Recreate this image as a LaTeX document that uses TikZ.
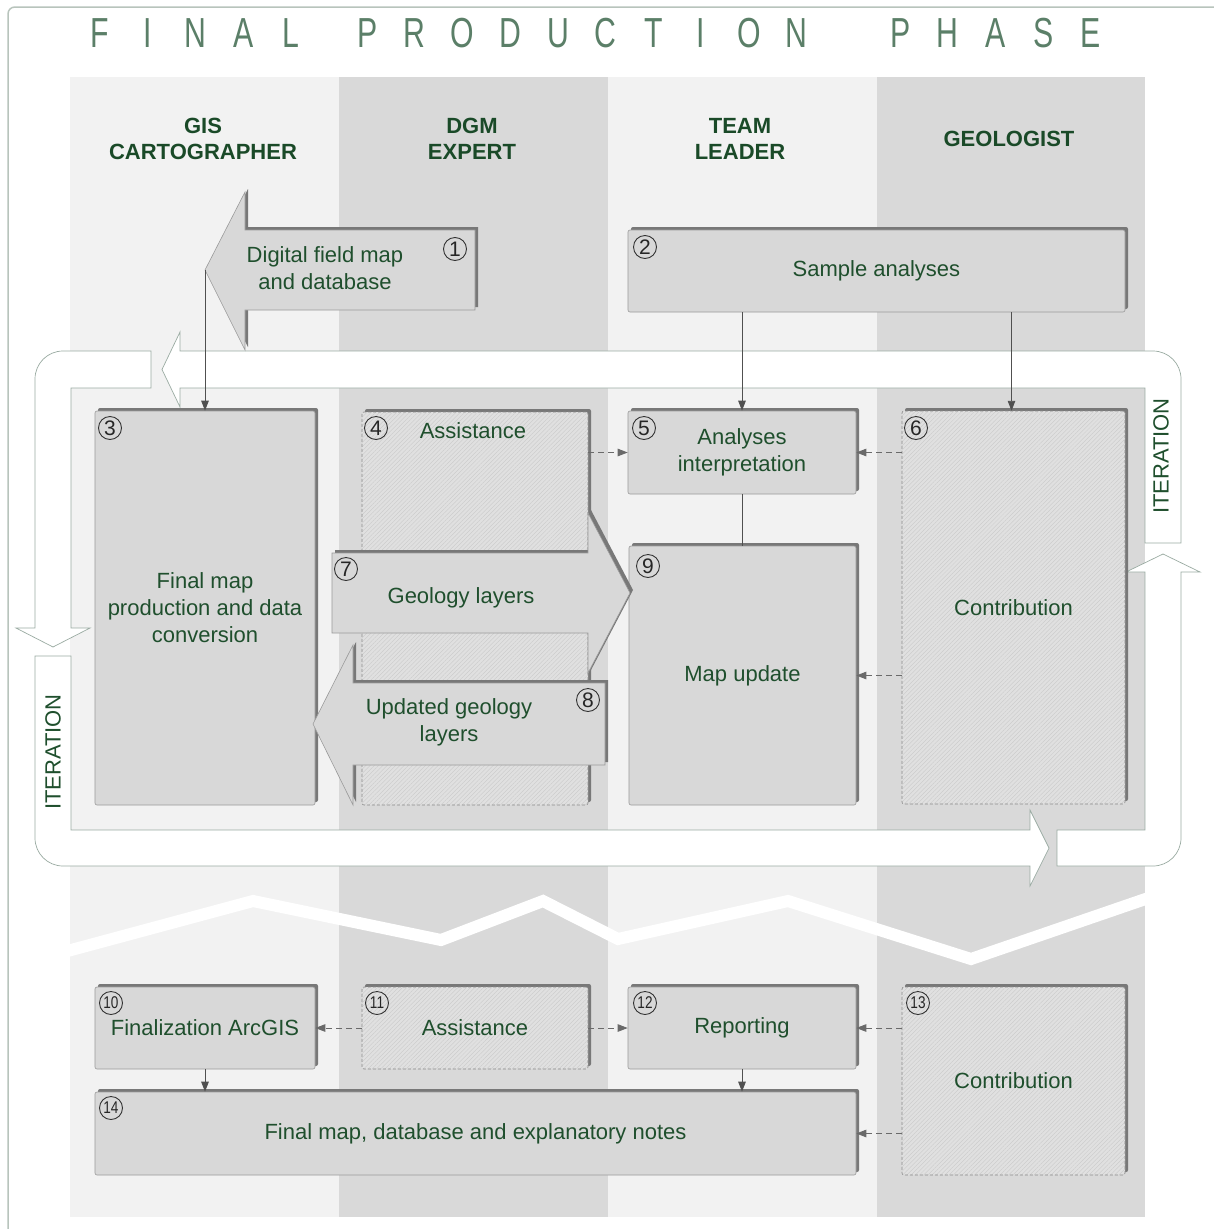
\documentclass[tikz,border=0pt]{standalone}
\usepackage{fontspec}
\setmainfont{Liberation Sans}
\newfontfamily\titlefont[FakeStretch=0.72]{Liberation Sans}
\usetikzlibrary{arrows.meta,shadows,patterns.meta}
\definecolor{colL}{HTML}{F2F2F2}
\definecolor{colD}{HTML}{D9D9D9}
\definecolor{boxfill}{HTML}{D8D8D8}
\definecolor{boxline}{HTML}{9A9A9A}
\definecolor{shadowc}{HTML}{787878}
\definecolor{hfill}{HTML}{E0E0E0}
\definecolor{hline}{HTML}{C8C8C8}
\definecolor{hborder}{HTML}{8A8A8A}
\definecolor{tgreen}{HTML}{1F4F2D}
\definecolor{hgreen}{HTML}{1A4A28}
\definecolor{titlec}{HTML}{5B7F68}
\definecolor{loopc}{HTML}{9AABA2}
\definecolor{framec}{HTML}{B8C4BC}
\definecolor{connc}{HTML}{505050}
\definecolor{dconnc}{HTML}{6A6A6A}
\definecolor{numline}{HTML}{333333}
\newcommand\ttlch[1]{\makebox[47.7pt]{#1}}
\begin{document}
\begin{tikzpicture}[x=1pt,y=-1pt,
  txt/.style={text=tgreen,font=\fontsize{22}{27}\selectfont,align=center},
  hdr/.style={text=hgreen,font=\bfseries\fontsize{22}{26.5}\selectfont,align=center},
  box/.style={draw=boxline,line width=0.6pt,fill=boxfill,rounded corners=2pt,inner sep=0pt,
    general shadow={fill=shadowc,shadow xshift=3pt,shadow yshift=3pt},txt},
  hbox/.style={fill=hfill,rounded corners=2pt,inner sep=0pt,
    general shadow={fill=shadowc,shadow xshift=3pt,shadow yshift=3pt},
    postaction={pattern={Lines[angle=45,distance=3pt,line width=0.35pt]},pattern color=hline},
    postaction={draw=hborder,line width=0.6pt,dash pattern=on 3pt off 2pt},txt},
  numc/.style={circle,draw=numline,line width=0.9pt,minimum size=23pt,inner sep=0pt,
    text=black!85,font=\fontsize{21}{21}\selectfont},
  numcc/.style={numc,font=\fontsize{17}{17}\selectfont},
  loopp/.style={fill=white,draw=loopc,line width=0.7pt,line join=miter},
  barrow/.style={fill=boxfill,draw=boxline,line width=0.6pt,line join=miter},
  conn/.style={draw=connc,line width=0.9pt,-{Triangle[length=10pt,width=7.5pt]}},
  dconn/.style={draw=dconnc,line width=0.9pt,dash pattern=on 6pt off 4pt,-{Triangle[length=10pt,width=7.5pt]}},
  plain/.style={draw=connc,line width=0.9pt}
]
\useasboundingbox (0,0) rectangle (1214,1229);
\fill[white] (0,0) rectangle (1214,1229);
% frame
\draw[framec,line width=1.5pt] (8,1229) -- (8,14) .. controls (8,10) and (11,7) .. (15,7) -- (1214,7);
% title
\node[anchor=base west,inner sep=0pt,text=titlec,font=\titlefont\fontsize{42}{42}\selectfont] (title) at (76.15,47)
 {\ttlch{F}\ttlch{I}\ttlch{N}\ttlch{A}\ttlch{L}\hspace{28.5pt}\ttlch{P}\ttlch{R}\ttlch{O}\ttlch{D}\ttlch{U}\ttlch{C}\ttlch{T}\ttlch{I}\ttlch{O}\ttlch{N}\hspace{56pt}\ttlch{P}\ttlch{H}\ttlch{A}\ttlch{S}\ttlch{E}};
% columns
\fill[colL] (70,77) rectangle (339,1217);
\fill[colD] (339,77) rectangle (608,1217);
\fill[colL] (608,77) rectangle (877,1217);
\fill[colD] (877,77) rectangle (1145,1217);
% headers
\node[hdr] (h1) at (203,139) {GIS\\CARTOGRAPHER};
\node[hdr] (h2) at (472,139) {DGM\\EXPERT};
\node[hdr] (h3) at (740,139) {TEAM\\LEADER};
\node[hdr] (h4) at (1009,139) {GEOLOGIST};
% zigzag
\begin{scope}
\clip (70,77) rectangle (1145,1217);
\draw[white,line width=12pt,line join=miter] (60,953) -- (253,901) -- (441,940) -- (543,901) -- (618,939) -- (788,901) -- (971,959) -- (1160,894);
\end{scope}
% iteration loop
\path[loopp] (1145,543) -- (1145,388) -- (180,388) -- (180,407) -- (162,369.5) -- (180,332) -- (180,351) -- (1153,351) .. controls (1168.5,351) and (1181,363.5) .. (1181,379) -- (1181,543) -- cycle;
\path[loopp] (151,388) -- (71,388) -- (71,628) -- (90,628) -- (53,647) -- (16,628) -- (35,628) -- (35,379) .. controls (35,363.5) and (47.5,351) .. (63,351) -- (151,351) -- cycle;
\path[loopp] (35,656) -- (35,838) .. controls (35,853.5) and (47.5,866) .. (63,866) -- (1030,866) -- (1030,886) -- (1049,848) -- (1030,810) -- (1030,830) -- (71,830) -- (71,656) -- cycle;
\path[loopp] (1057,830) -- (1145,830) -- (1145,572) -- (1126,572) -- (1163,554) -- (1200,572) -- (1181,572) -- (1181,838) .. controls (1181,853.5) and (1168.5,866) .. (1153,866) -- (1057,866) -- cycle;
\node[text=tgreen,font=\fontsize{22}{22}\selectfont,rotate=90] (itr) at (1161,456) {ITERATION};
\node[text=tgreen,font=\fontsize{22}{22}\selectfont,rotate=90] (itl) at (53,752) {ITERATION};
% boxes
\node[box,minimum width=497pt,minimum height=82pt] (b2) at (876.5,271) {Sample analyses};
\node[box,minimum width=220pt,minimum height=394pt] (b3) at (205,608) {Final map\\production and data\\conversion};
\node[hbox,minimum width=226pt,minimum height=393pt] (b4) at (475,608.5) {};
\node[txt] (t4) at (473,431) {Assistance};
\node[box,minimum width=228pt,minimum height=83pt] (b5) at (742,452.5) {Analyses\\interpretation};
\node[hbox,minimum width=223pt,minimum height=393pt] (b6) at (1013.5,607.5) {Contribution};
\node[box,minimum width=227pt,minimum height=259pt] (b9) at (742.5,675.5) {Map update};
\node[box,minimum width=220pt,minimum height=82pt] (b10) at (205,1028) {Finalization ArcGIS};
\node[hbox,minimum width=226pt,minimum height=82pt] (b11) at (475,1028) {Assistance};
\node[box,minimum width=228pt,minimum height=82pt] (b12) at (742,1028) {Reporting};
\node[hbox,minimum width=223pt,minimum height=188pt] (b13) at (1013.5,1081) {Contribution};
\node[box,minimum width=761pt,minimum height=83pt] (b14) at (475.5,1133.5) {Final map, database and explanatory notes};
% block arrow 1
\fill[shadowc,xshift=3pt,yshift=3pt] (475,230) -- (245,230) -- (245,192) -- (205,270) -- (245,350) -- (245,310) -- (475,310) -- cycle;
\path[barrow] (475,230) -- (245,230) -- (245,192) -- (205,270) -- (245,350) -- (245,310) -- (475,310) -- cycle;
\coordinate (a1tip) at (205,270);
\node[txt] (t1) at (325,268) {Digital field map\\and database};
% block arrow 7
\fill[shadowc,xshift=3pt,yshift=3pt] (332,553) -- (588,553) -- (588,513) -- (630,593) -- (588,673) -- (588,633) -- (332,633) -- cycle;
\path[barrow] (332,553) -- (588,553) -- (588,513) -- (630,593) -- (588,673) -- (588,633) -- (332,633) -- cycle;
\node[txt] (t7) at (461,598) {Geology layers};
% block arrow 8
\fill[shadowc,xshift=3pt,yshift=3pt] (605,683) -- (353,683) -- (353,645) -- (313,724) -- (353,805) -- (353,765) -- (605,765) -- cycle;
\path[barrow] (605,683) -- (353,683) -- (353,645) -- (313,724) -- (353,805) -- (353,765) -- (605,765) -- cycle;
\node[txt] (t8) at (449,722) {Updated geology\\layers};
% numbers
\node[numc] (n1) at (455,249) {1};
\node[numc] (n2) at (645,247) {2};
\node[numc] (n3) at (110,428) {3};
\node[numc] (n4) at (376,428) {4};
\node[numc] (n5) at (644,428) {5};
\node[numc] (n6) at (916,428) {6};
\node[numc] (n7) at (346,569) {7};
\node[numc] (n8) at (588,700) {8};
\node[numc] (n9) at (648,566) {9};
\node[numcc] (n10) at (111,1003) {\scalebox{0.8}[1]{10}};
\node[numcc] (n11) at (377,1003) {\scalebox{0.8}[1]{11}};
\node[numcc] (n12) at (645,1003) {\scalebox{0.8}[1]{12}};
\node[numcc] (n13) at (918,1003) {\scalebox{0.8}[1]{13}};
\node[numcc] (n14) at (111,1108) {\scalebox{0.8}[1]{14}};
% connectors
\draw[conn] (a1tip) -- (a1tip |- b3.north);
\draw[conn] (b5.north |- b2.south) -- (b5.north);
\draw[conn] ([xshift=-2pt]b6.north |- b2.south) -- ([xshift=-2pt]b6.north);
\draw[dconn] (b4.east |- b5.west) -- (b5.west);
\draw[dconn] (b6.west |- b5.east) -- (b5.east);
\draw[plain] (b5.south) -- (b5.south |- b9.north);
\draw[dconn] (b6.west |- b9.east) -- (b9.east);
\draw[dconn] (b11.west) -- (b10.east);
\draw[dconn] (b11.east) -- (b12.west);
\draw[dconn] (b13.west |- b12.east) -- (b12.east);
\draw[dconn] (b13.west |- b14.east) -- (b14.east);
\draw[conn] (b10.south) -- (b10.south |- b14.north);
\draw[conn] (b12.south) -- (b12.south |- b14.north);
\end{tikzpicture}
\end{document}
